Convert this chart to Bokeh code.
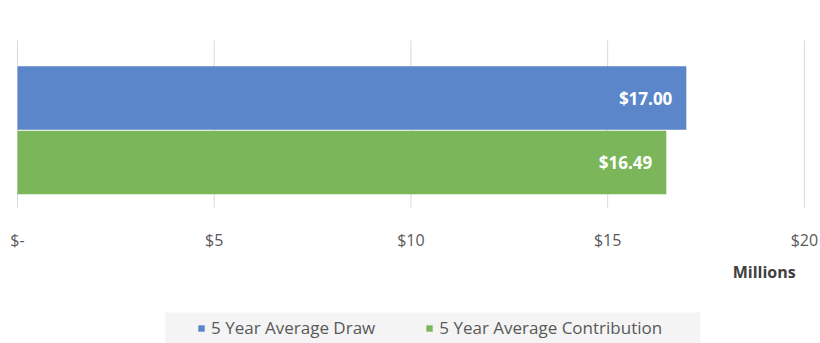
from bokeh.plotting import figure
from bokeh.models import (Range1d, ColumnDataSource, Legend, LegendItem, Label,
                          BoxAnnotation)
from bokeh.core.properties import value
from bokeh.embed import file_html
from bokeh.resources import INLINE

# Values in millions of dollars
series = ["5 Year Average Draw", "5 Year Average Contribution"]
values = [17.00, 16.49]
value_labels = ["$17.00", "$16.49"]
colors = ["#5b86c9", "#7bb65a"]
tick_values = [0, 5, 10, 15, 20]
tick_labels = ["$-", "$5", "$10", "$15", "$20"]

positions = [1, 0]  # Draw on top, Contribution below

FONT = "Open Sans"
GREY = "#595959"

# Layout constants (data units on the category axis)
GRID_BOTTOM, GRID_TOP = -0.698, 1.891
TICK_LABEL_Y = -1.209
UNIT_LABEL_Y = -1.70
Y_MIN, Y_MAX = -2.806, 2.512

bars = ColumnDataSource(dict(y=positions, right=values, color=colors,
                             name=series, label=value_labels))
ticks = ColumnDataSource(dict(x=tick_values, label=tick_labels))

p = figure(width=820, height=343, output_backend="svg", toolbar_location=None,
           x_range=Range1d(-0.432, 20.41), y_range=Range1d(Y_MIN, Y_MAX),
           min_border=0)
p.outline_line_color = None
p.background_fill_color = "white"
p.border_fill_color = "white"
p.axis.visible = False
p.grid.visible = False

# vertical gridlines at each tick
p.segment(x0="x", x1="x", y0=GRID_BOTTOM, y1=GRID_TOP, source=ticks,
          line_color="#d9d9d9", line_width=1)

r = p.hbar(y="y", left=0, right="right", height=0.985, color="color",
           line_color=None, source=bars)

# tick labels along the bottom
p.text(x="x", y=TICK_LABEL_Y, text="label", source=ticks, text_align="center",
       text_baseline="middle", text_font=value(FONT), text_font_size="16px",
       text_color=GREY)

# value labels inside the bar ends
p.text(x="right", y="y", text="label", source=bars, text_align="right",
       text_baseline="middle", x_offset=-14, text_color="white",
       text_font=value(FONT), text_font_style="bold", text_font_size="17px")

p.add_layout(Label(x=18.98, y=UNIT_LABEL_Y, text="Millions", text_align="center",
                   text_baseline="middle", text_font=FONT, text_font_style="bold",
                   text_font_size="16px", text_color="#404040"))

# light panel behind the legend
p.add_layout(BoxAnnotation(left=3.761, right=17.357, bottom=Y_MIN, top=-2.326,
                           fill_color="#f4f4f4", fill_alpha=1, line_color=None,
                           level="underlay"))

legend = Legend(items=[LegendItem(label=series[0], renderers=[r], index=0),
                       LegendItem(label=series[1], renderers=[r], index=1)],
                orientation="horizontal", location=(197, 4),
                background_fill_alpha=0, border_line_color=None,
                glyph_width=8, glyph_height=8,
                label_standoff=6, spacing=50, padding=6, margin=0,
                label_text_font=FONT, label_text_font_size="17px",
                label_text_color=GREY)
p.add_layout(legend, "center")

open("out.html", "w").write(file_html(p, INLINE))
